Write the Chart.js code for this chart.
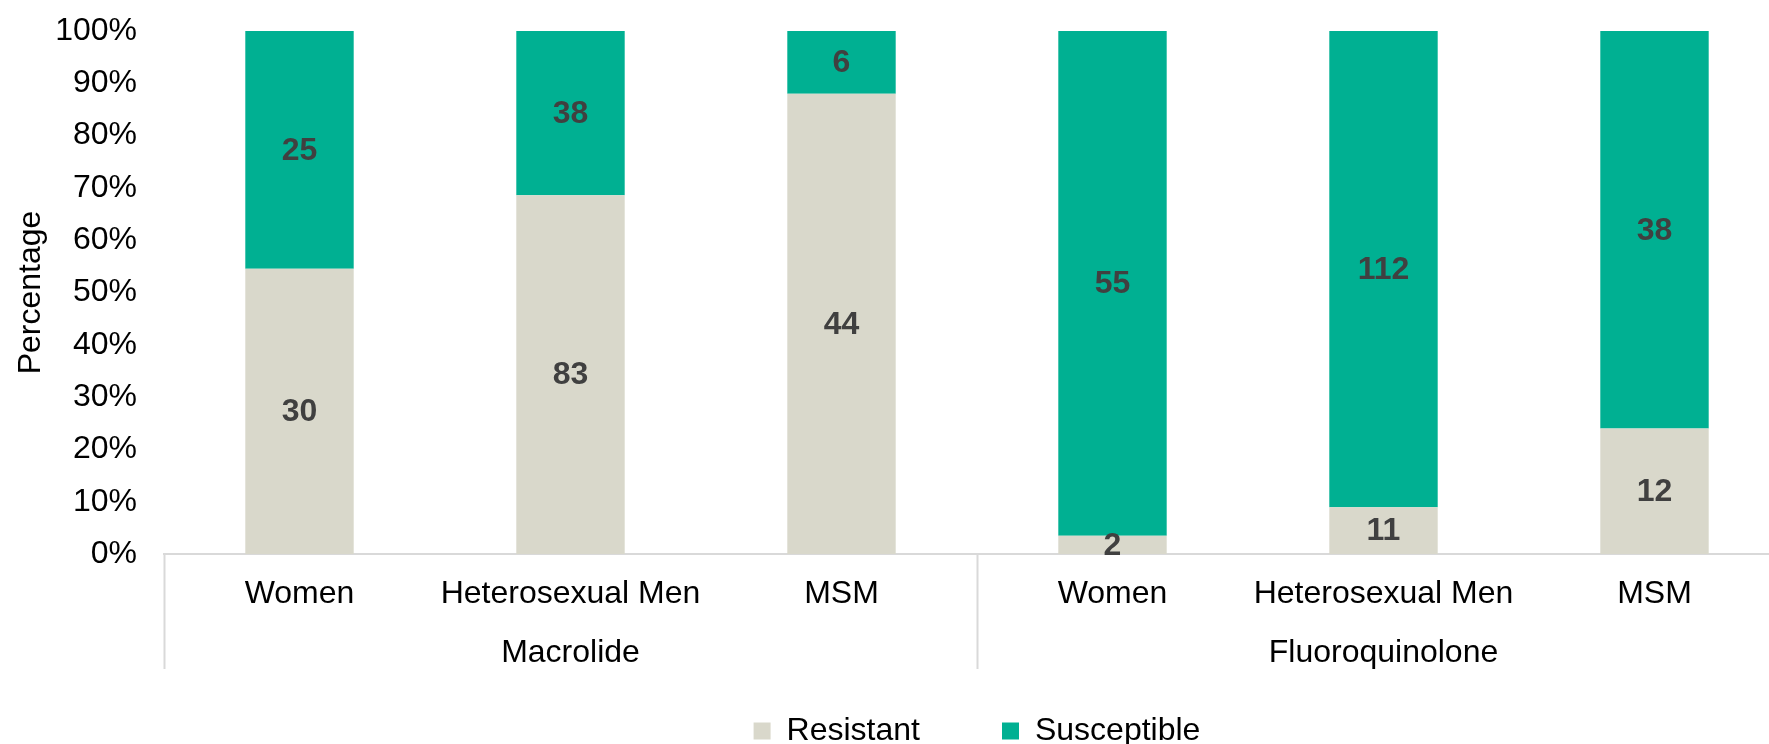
<!DOCTYPE html>
<html><head><meta charset="utf-8">
<script src="https://cdn.jsdelivr.net/npm/chart.js@4/dist/chart.umd.min.js"></script>
<style>
html,body{margin:0;padding:0;background:#fff;overflow:hidden;}
#wrap{width:1769px;height:744px;overflow:hidden;position:relative;}
#box{width:1790px;height:744px;position:absolute;left:0;top:0;}
</style></head><body>
<div id="wrap"><div id="box"><canvas id="c"></canvas></div></div>
<script>
const categories = ['Women', 'Heterosexual Men', 'MSM', 'Women', 'Heterosexual Men', 'MSM'];
const groups = ['Macrolide', 'Fluoroquinolone'];
const resistantCounts = [30, 83, 44, 2, 11, 12];
const susceptibleCounts = [25, 38, 6, 55, 112, 38];
const yTickLabels = ['0%', '10%', '20%', '30%', '40%', '50%', '60%', '70%', '80%', '90%', '100%'];
const seriesNames = ['Resistant', 'Susceptible'];

const totals = resistantCounts.map((r, i) => r + susceptibleCounts[i]);
const resistantPct = resistantCounts.map((r, i) => r / totals[i] * 100);
const susceptiblePct = susceptibleCounts.map((s, i) => s / totals[i] * 100);

const FONT = '"Liberation Sans", Arial, sans-serif';
Chart.defaults.font.family = FONT;
Chart.defaults.font.size = 32;
Chart.defaults.color = '#000';
const LEGEND_GAP = 82;
const LEGEND_SHIFT = LEGEND_GAP - 46;

const legendShift = {
  id: 'legendShift',
  afterLayout(chart) {
    const l = chart.legend;
    if (l) { l.top -= LEGEND_SHIFT; l.bottom -= LEGEND_SHIFT; }
  }
};

const decor = {
  id: 'decor',
  afterDraw(chart) {
    const ctx = chart.ctx;
    const x = chart.scales.x, xg = chart.scales.xg;
    const half = (x.getPixelForValue(1) - x.getPixelForValue(0)) / 2;
    const seps = [x.getPixelForValue(0) - half, x.getPixelForValue(3) - half, x.getPixelForValue(5) + half];
    ctx.save();
    ctx.strokeStyle = '#d9d9d9';
    ctx.lineWidth = 2;
    seps.forEach(px => {
      ctx.beginPath();
      ctx.moveTo(Math.round(px) + 0.5, x.top);
      ctx.lineTo(Math.round(px) + 0.5, xg.bottom);
      ctx.stroke();
    });
    ctx.font = 'bold 32px ' + FONT;
    ctx.fillStyle = '#404040';
    ctx.textAlign = 'center';
    ctx.textBaseline = 'middle';
    const counts = [resistantCounts, susceptibleCounts];
    chart.data.datasets.forEach((ds, di) => {
      chart.getDatasetMeta(di).data.forEach((bar, i) => {
        const p = bar.getProps(['x', 'y', 'base'], true);
        ctx.fillText(String(counts[di][i]), p.x, (p.y + p.base) / 2 + 1);
      });
    });
    ctx.restore();
  }
};

new Chart(document.getElementById('c'), {
  type: 'bar',
  data: {
    labels: categories,
    datasets: [
      { label: seriesNames[0], data: resistantPct, backgroundColor: '#D9D8CB', borderWidth: 0 },
      { label: seriesNames[1], data: susceptiblePct, backgroundColor: '#00B092', borderWidth: 0 }
    ]
  },
  options: {
    responsive: true,
    maintainAspectRatio: false,
    animation: false,
    events: [],
    barPercentage: 0.4,
    categoryPercentage: 1.0,
    layout: { padding: { top: 31, right: 0, left: 0, bottom: -49 } },
    scales: {
      x: {
        stacked: true,
        weight: 0,
        grid: { display: false, drawTicks: false },
        border: { display: true, color: '#d9d9d9', width: 2 },
        ticks: { padding: 21, maxRotation: 0, autoSkip: false, color: '#000', font: { size: 32 } },
        afterFit: s => { s.height = 56; }
      },
      xg: {
        type: 'category',
        labels: groups,
        position: 'bottom',
        offset: true,
        weight: 1,
        grid: { display: false, drawTicks: false },
        border: { display: false },
        ticks: { padding: 24, maxRotation: 0, autoSkip: false, color: '#000', font: { size: 32 } },
        afterFit: s => { s.height = 59; }
      },
      y: {
        stacked: true,
        min: 0,
        max: 100,
        grid: { display: false, drawTicks: false },
        border: { display: false },
        ticks: { stepSize: 10, padding: 27, color: '#000', font: { size: 32 },
                 callback: (v, i) => yTickLabels[i] },
        title: { display: true, text: 'Percentage', color: '#000', font: { size: 32 }, padding: { top: 12, bottom: 0 } },
        afterFit: s => { s.width = 164; s.paddingTop = 0; s.paddingBottom = 0; }
      }
    },
    plugins: {
      legend: {
        position: 'bottom',
        fullSize: false,
        labels: { boxWidth: 17, boxHeight: 17, padding: LEGEND_GAP, color: '#000', font: { size: 32 } }
      },
      tooltip: { enabled: false }
    }
  },
  plugins: [legendShift, decor]
});
</script>
</body></html>
